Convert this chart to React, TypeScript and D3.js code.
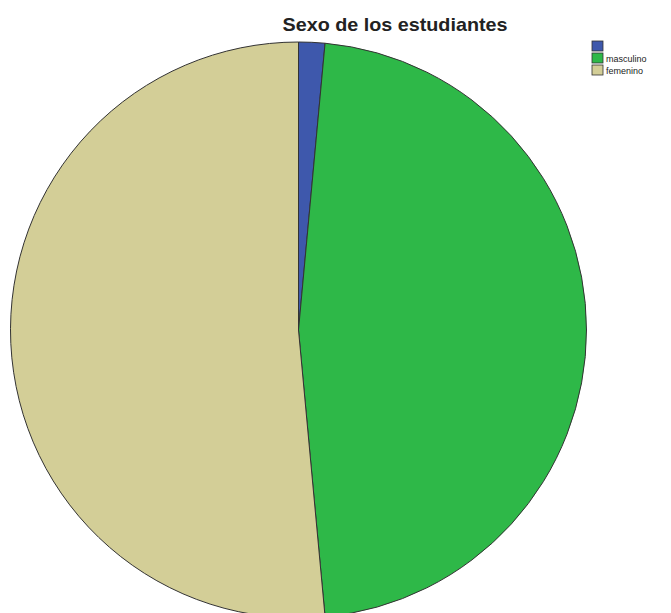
import * as React from "react"
import * as d3 from "d3"

const categories = ["", "masculino", "femenino"]
const counts = [1, 32, 35]
const colors = ["#3E58AC", "#2EB848", "#D3CE97"]

const title = "Sexo de los estudiantes"

export default function App(): React.JSX.Element {
  const width = 671
  const height = 613
  const cx = 298.5
  const cy = 330
  const radius = 288

  const pie = d3
    .pie<number>()
    .sort(null)
    .value((d) => d)
  const arcs = pie(counts)
  const arc = d3.arc<d3.PieArcDatum<number>>().innerRadius(0).outerRadius(radius)

  const legendX = 592
  const legendY = 41
  const legendStep = 12

  return (
    <svg
      width={width}
      height={height}
      style={{ position: "absolute", left: 0, top: 0, background: "#fff" }}
      fontFamily="'Liberation Sans', Arial, sans-serif"
    >
      <text
        x={395}
        y={31}
        textAnchor="middle"
        fontSize={19}
        fontWeight="bold"
        fill="#222"
        textLength={225}
        lengthAdjust="spacingAndGlyphs"
      >
        {title}
      </text>
      <g transform={`translate(${cx},${cy})`}>
        {arcs.map((a, i) => (
          <path
            key={i}
            d={arc(a) || ""}
            fill={colors[i]}
            stroke="#333"
            strokeWidth={1}
          />
        ))}
      </g>
      <g transform={`translate(${legendX},${legendY})`}>
        {categories.map((c, i) => (
          <g key={i} transform={`translate(0,${i * legendStep})`}>
            <rect
              x={0}
              y={0}
              width={11}
              height={10}
              fill={colors[i]}
              stroke="#333"
              strokeWidth={0.8}
            />
            <text x={14} y={8.5} fontSize={9} fill="#222">
              {c}
            </text>
          </g>
        ))}
      </g>
    </svg>
  )
}
